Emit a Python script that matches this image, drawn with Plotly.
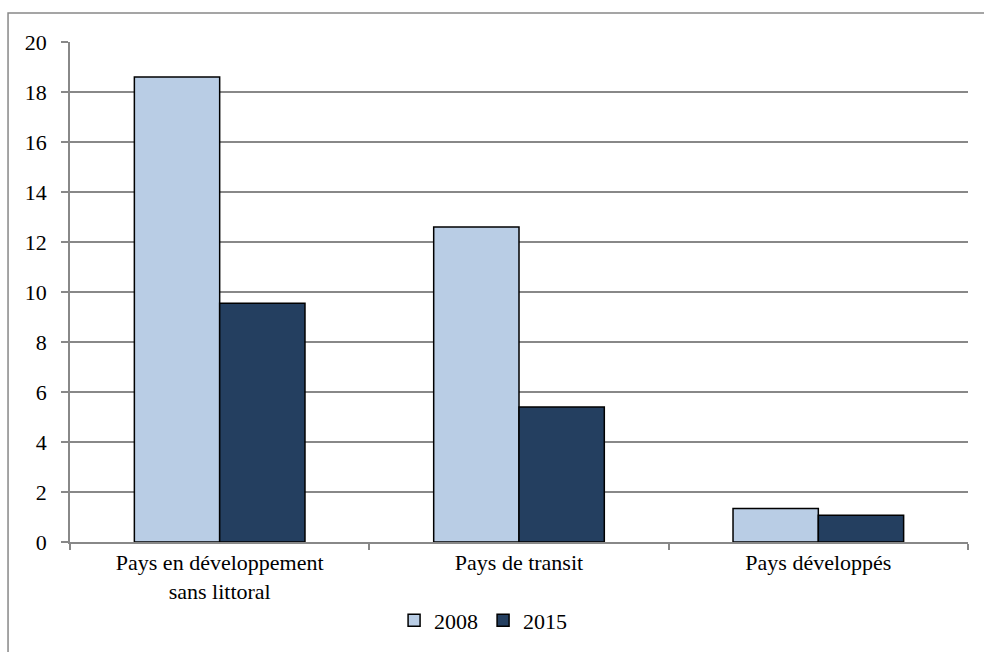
import plotly.graph_objects as go

categories = ["Pays en développement<br>sans littoral", "Pays de transit", "Pays développés"]
series_names = ["2008", "2015"]
values_2008 = [18.6, 12.6, 1.34]
values_2015 = [9.55, 5.4, 1.07]
y_ticks = [0, 2, 4, 6, 8, 10, 12, 14, 16, 18, 20]

colors = {"2008": "#b9cde5", "2015": "#243f60"}
font_family = "Liberation Serif"

fig = go.Figure()
for name, vals in zip(series_names, [values_2008, values_2015]):
    fig.add_trace(go.Bar(
        x=categories, y=vals, name=name,
        marker=dict(color=colors[name], line=dict(color="#000000", width=1.5)),
    ))

fig.update_layout(
    width=984, height=652,
    paper_bgcolor="white", plot_bgcolor="white",
    margin=dict(l=70, r=16, t=42, b=110, autoexpand=False),
    barmode="group", bargap=0.43, bargroupgap=0,
    font=dict(family=font_family, size=22, color="#000000"),
    showlegend=True,
    legend=dict(orientation="h", x=0.46, xanchor="center", y=-0.115, yanchor="top",
                font=dict(family=font_family, size=22), itemwidth=30, traceorder="normal"),
    xaxis=dict(
        showline=True, linecolor="#888888", linewidth=1.5,
        ticks="outside", ticklen=6, tickcolor="#888888", tickwidth=1.5,
        tickson="boundaries", showgrid=False,
        tickfont=dict(family=font_family, size=22),
    ),
    yaxis=dict(
        range=[0, 20], tickvals=y_ticks,
        showline=True, linecolor="#888888", linewidth=1.5,
        ticks="outside", ticklen=7, tickcolor="#888888", tickwidth=1.5,
        showgrid=True, gridcolor="#888888", gridwidth=1.5,
        zeroline=False, tickfont=dict(family=font_family, size=22), ticklabelstandoff=10,
    ),
    shapes=[dict(type="rect", xref="paper", yref="paper",
                 x0=-0.069, x1=1.1, y0=-0.4, y1=1.058,
                 line=dict(color="#888888", width=1.5), layer="below")],
)

fig.write_html("out.html")
